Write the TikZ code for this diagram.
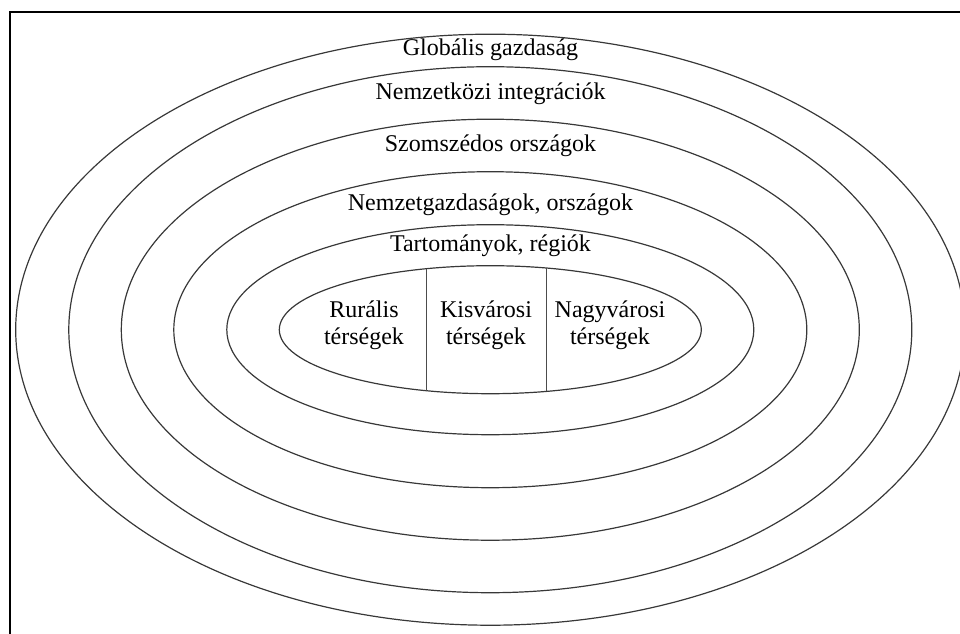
\documentclass[tikz,border=0pt]{standalone}
\usepackage{fontspec}
\setmainfont{Liberation Serif}
\begin{document}
\begin{tikzpicture}[x=1pt,y=-1pt,
  ring/.style={draw=black!78,line width=1.2pt},
  frameline/.style={draw=black,line width=2.6pt},
  divider/.style={draw=black!70,line width=1pt},
  label/.style={inner sep=0pt,font=\fontsize{24}{27}\selectfont,align=center}]
\useasboundingbox (0,0) rectangle (960,633);
\begin{scope}
\clip (0,0) rectangle (960,633);
% frame (top and left edges)
\draw[frameline] (9,12) -- (962,12);
\draw[frameline] (10,12) -- (10,640);
% nested zones around a common centre
\coordinate (c) at (490.3,329.7);
\draw[ring] (c) ellipse [x radius=474.6,y radius=295.5];
\draw[ring] (c) ellipse [x radius=421.5,y radius=263];
\draw[ring] (c) ellipse [x radius=369,y radius=210.5];
\draw[ring] (c) ellipse [x radius=316.5,y radius=158];
\draw[ring] (c) ellipse [x radius=263.5,y radius=105];
\draw[ring] (c) ellipse [x radius=211,y radius=64];
\end{scope}
% dividers of the innermost zone
\coordinate (d1t) at (426,268.7);
\coordinate (d1b) at (426,390.7);
\coordinate (d2t) at (546,268.0);
\coordinate (d2b) at (546,391.4);
\draw[divider] (d1t) -- (d1b);
\draw[divider] (d2t) -- (d2b);
% zone labels
\node[label] (glob) at (490.5,50) {Globális gazdaság};
\node[label] (intg) at (490.5,94) {Nemzetközi integrációk};
\node[label] (szom) at (490.5,146) {Szomszédos országok};
\node[label] (nemz) at (490.5,205) {Nemzetgazdaságok, országok};
\node[label] (tart) at (490.5,246) {Tartományok, régiók};
\node[label] (rur) at (364,325) {Rurális\\térségek};
\node[label] (kis) at (486,325) {Kisvárosi\\térségek};
\node[label] (nagy) at (610,325) {Nagyvárosi\\térségek};
\end{tikzpicture}
\end{document}
